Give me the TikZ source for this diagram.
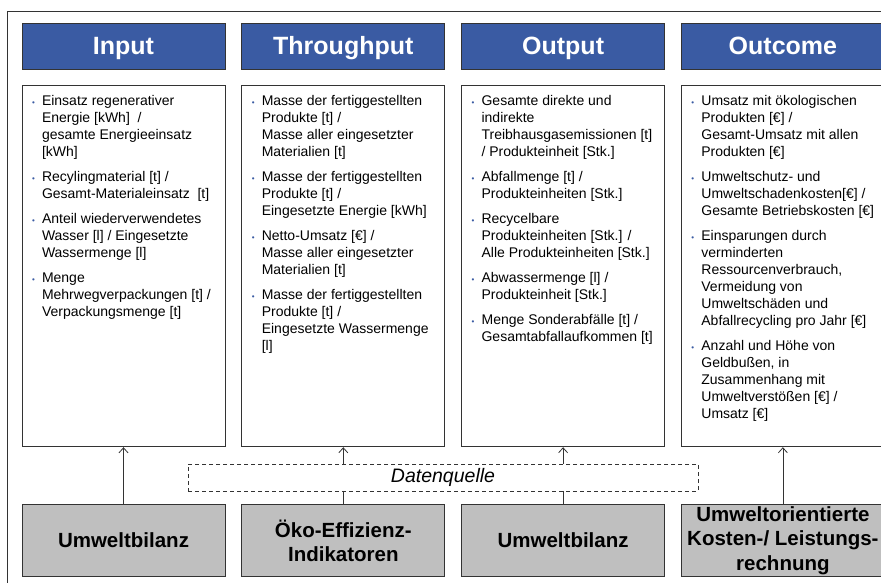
\documentclass[tikz,border=0pt]{standalone}
\usepackage{fontspec}
\setmainfont{Liberation Sans}
\usepackage{xcolor}
\usepackage{tikz}
\usetikzlibrary{positioning,arrows.meta}
\definecolor{headblue}{HTML}{3A5BA3}
\definecolor{srcgray}{HTML}{BFBFBF}
\definecolor{edge}{HTML}{333333}
\newcommand\bl{\makebox[10pt][l]{\fontsize{8}{8}\selectfont\textcolor{headblue}{\textbullet}}}
\newcommand\kpi[1]{\parbox[t][345pt][t]{183pt}{\begin{tabular}{@{}l@{}l@{}}#1\end{tabular}}}

\begin{document}
\begin{tikzpicture}[x=1pt,y=-1pt,
  head/.style={draw=edge,fill=headblue,line width=0.8pt,minimum width=203pt,minimum height=46pt,inner sep=0pt,text height=18pt,text depth=0pt,text=white,font=\fontsize{25}{30}\selectfont\bfseries},
  body/.style={draw=edge,fill=white,line width=0.8pt,minimum width=203pt,minimum height=361pt,inner xsep=10pt,inner ysep=8pt,font=\fontsize{14}{17}\selectfont},
  src/.style={draw=edge,fill=srcgray,line width=0.8pt,minimum width=203pt,minimum height=72pt,inner sep=0pt,align=center,font=\fontsize{20.5}{24.5}\selectfont\bfseries},
  srcbox/.style={draw=edge,fill=white,line width=0.8pt,dash pattern=on 4pt off 3pt,minimum width=510pt,minimum height=27pt,inner sep=0pt,font=\fontsize{19.5}{21}\selectfont\itshape},
  arr/.style={-{Straight Barb[length=5pt,width=9pt]},edge,line width=0.8pt}
]
\useasboundingbox (0,0) rectangle (881,583);
\draw[edge,line width=0.8pt] (7,583) |- (881,11);
% headers
\node[head] (hin) at (123.5,46) {Input};
\node[head,right=16pt of hin] (hth) {Throughput};
\node[head,right=16pt of hth] (hout) {Output};
\node[head,right=16pt of hout] (hoc) {Outcome};
% indicator boxes
\node[body,below=16pt of hin] (bin) {\kpi{
  \bl & Einsatz regenerativer\\ & Energie [kWh]~ /\\ & gesamte Energieeinsatz\\ & [kWh]\\[8pt]
  \bl & Recylingmaterial [t] /\\ & Gesamt-Materialeinsatz~ [t]\\[8pt]
  \bl & Anteil wiederverwendetes\\ & Wasser [l] / Eingesetzte\\ & Wassermenge [l]\\[8pt]
  \bl & Menge\\ & Mehrwegverpackungen [t] /\\ & Verpackungsmenge [t]}};
\node[body,below=16pt of hth] (bth) {\kpi{
  \bl & Masse der fertiggestellten\\ & Produkte [t] /\\ & Masse aller eingesetzter\\ & Materialien [t]\\[8pt]
  \bl & Masse der fertiggestellten\\ & Produkte [t] /\\ & Eingesetzte Energie [kWh]\\[8pt]
  \bl & Netto-Umsatz [€] /\\ & Masse aller eingesetzter\\ & Materialien [t]\\[8pt]
  \bl & Masse der fertiggestellten\\ & Produkte [t] /\\ & Eingesetzte Wassermenge\\ & [l]}};
\node[body,below=16pt of hout] (bout) {\kpi{
  \bl & Gesamte direkte und\\ & indirekte\\ & Treibhausgasemissionen [t]\\ & / Produkteinheit [Stk.]\\[8pt]
  \bl & Abfallmenge [t] /\\ & Produkteinheiten [Stk.]\\[8pt]
  \bl & Recycelbare\\ & Produkteinheiten [Stk.] /\\ & Alle Produkteinheiten [Stk.]\\[8pt]
  \bl & Abwassermenge [l] /\\ & Produkteinheit [Stk.]\\[8pt]
  \bl & Menge Sonderabfälle [t] /\\ & Gesamtabfallaufkommen [t]}};
\node[body,below=16pt of hoc] (boc) {\kpi{
  \bl & Umsatz mit ökologischen\\ & Produkten [€] /\\ & Gesamt-Umsatz mit allen\\ & Produkten [€]\\[8pt]
  \bl & Umweltschutz- und\\ & Umweltschadenkosten[€] /\\ & Gesamte Betriebskosten [€]\\[8pt]
  \bl & Einsparungen durch\\ & verminderten\\ & Ressourcenverbrauch,\\ & Vermeidung von\\ & Umweltschäden und\\ & Abfallrecycling pro Jahr [€]\\[8pt]
  \bl & Anzahl und Höhe von\\ & Geldbußen, in\\ & Zusammenhang mit\\ & Umweltverstößen [€] /\\ & Umsatz [€]}};
% sources
\node[src,below=57pt of bin] (sin) {Umweltbilanz};
\node[src,below=57pt of bth] (sth) {Öko-Effizienz-\\Indikatoren};
\node[src,below=57pt of bout] (sout) {Umweltbilanz};
\node[src,below=57pt of boc] (soc) {Umweltorientierte\\Kosten-/ Leistungs-\\rechnung};
\draw[arr] (sin)--(bin);
\draw[arr] (sth)--(bth);
\draw[arr] (sout)--(bout);
\draw[arr] (soc)--(boc);
\node[srcbox] (dq) at (443,477.5) {Datenquelle};
\end{tikzpicture}
\end{document}
